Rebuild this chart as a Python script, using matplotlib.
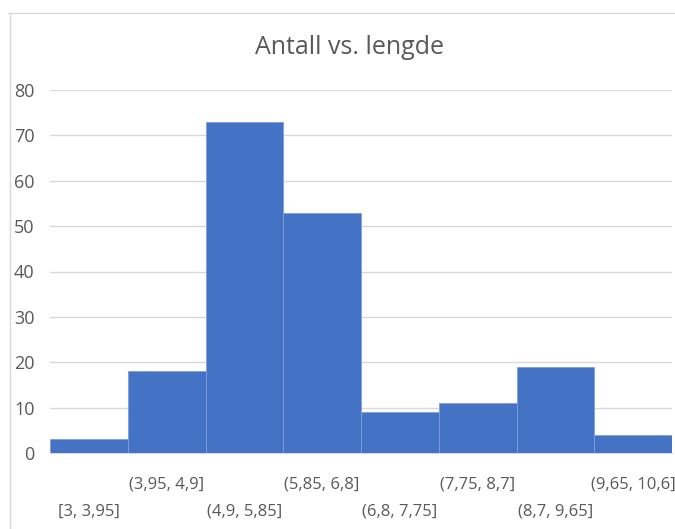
import matplotlib
matplotlib.use('Agg')
import matplotlib.pyplot as plt
from matplotlib.lines import Line2D

# histogram bins and counts
bins = ["[3, 3,95]", "(3,95, 4,9]", "(4,9, 5,85]", "(5,85, 6,8]",
        "(6,8, 7,75]", "(7,75, 8,7]", "(8,7, 9,65]", "(9,65, 10,6]"]
counts = [3, 18, 73, 53, 9, 11, 19, 4]
yticks = [0, 10, 20, 30, 40, 50, 60, 70, 80]

plt.rcParams['font.family'] = ['Open Sans', 'DejaVu Sans']

fig = plt.figure(figsize=(6.75, 5.29), dpi=100)
ax = fig.add_axes([50 / 675, 1 - 453 / 529, 622 / 675, 363 / 529])

# chart frame (left and top border like the Excel chart area)
fig.add_artist(Line2D([10 / 675, 10 / 675], [0, 1 - 13 / 529], color='#d9d9d9', lw=1))
fig.add_artist(Line2D([8 / 675, 1], [1 - 13 / 529, 1 - 13 / 529], color='#d9d9d9', lw=1))

x = list(range(len(counts)))
ax.bar(x, counts, width=1.0, align='edge', color='#4472C4',
       edgecolor='#7f9fd9', linewidth=0.6, zorder=3)

ax.set_xlim(0, len(counts))
ax.set_ylim(0, 80)
ax.set_yticks(yticks)
ax.grid(axis='y', color='#d9d9d9', linewidth=1, zorder=0)

# staggered category labels: odd bins on first row, even bins on second row
labels = []
for i, b in enumerate(bins):
    labels.append("\n" + b if i % 2 == 0 else b)
ax.set_xticks([i + 0.5 for i in x])
ax.set_xticklabels(labels, fontsize=12, color='#595959', linespacing=1.9)
ax.tick_params(axis='x', length=0, pad=17)
ax.tick_params(axis='y', length=0, pad=11, labelsize=13, labelcolor='#595959')

for s in ['top', 'right', 'left']:
    ax.spines[s].set_visible(False)
ax.spines['bottom'].set_color('#d9d9d9')

fig.text(0.518, 1 - 47 / 529, "Antall vs. lengde", ha='center', va='center',
         fontsize=18, color='#595959')

plt.savefig("out.png", dpi=100)
